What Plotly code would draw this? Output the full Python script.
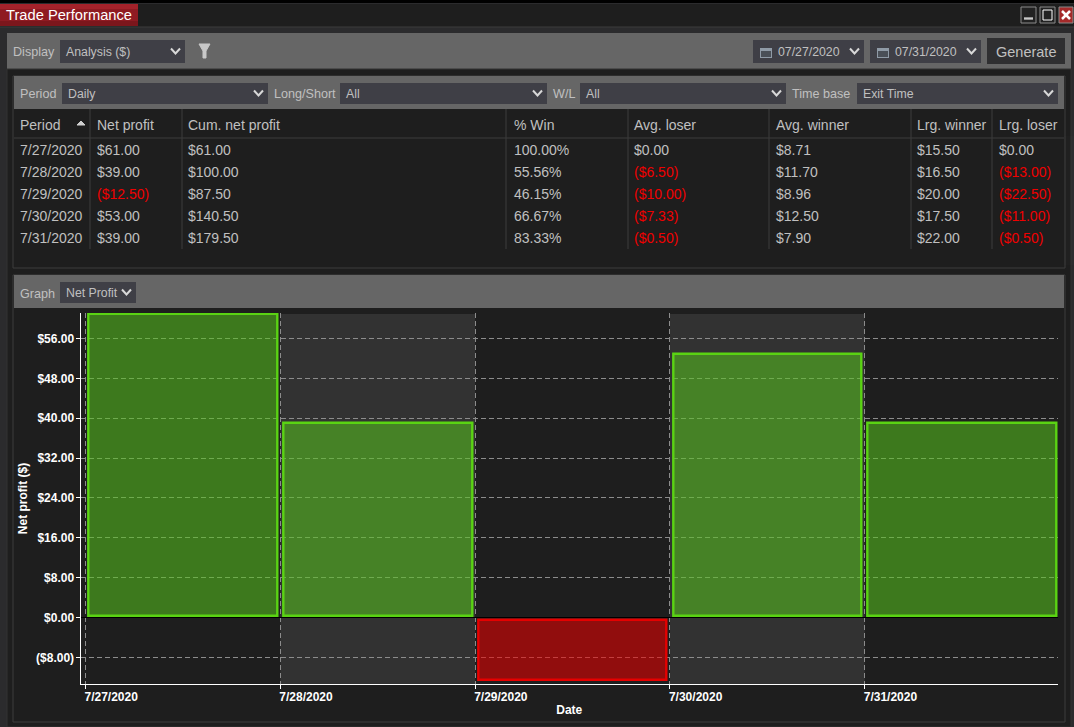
import plotly.graph_objects as go
import pandas as pd

W = 1074
H = 727

periods = ["7/27/2020", "7/28/2020", "7/29/2020", "7/30/2020", "7/31/2020"]
net_profit = [61.00, 39.00, -12.50, 53.00, 39.00]
cum_net_profit = [61.00, 100.00, 87.50, 140.50, 179.50]
pct_win = [100.00, 55.56, 46.15, 66.67, 83.33]
avg_loser = [0.00, -6.50, -10.00, -7.33, -0.50]
avg_winner = [8.71, 11.70, 8.96, 12.50, 7.90]
lrg_winner = [15.50, 16.50, 20.00, 17.50, 22.00]
lrg_loser = [0.00, -13.00, -22.50, -11.00, -0.50]

headers = ["Period", "Net\u00a0profit", "Cum.\u00a0net\u00a0profit", "%\u00a0Win", "Avg.\u00a0loser",
           "Avg.\u00a0winner", "Lrg.\u00a0winner", "Lrg.\u00a0loser"]
y_ticks = [-8, 0, 8, 16, 24, 32, 40, 48, 56]

BG = "#1e1e1e"
PANEL = "#666666"
SELECT = "#3f3f46"
EDGE = "#3c3c3c"
TEXT = "#c0c0c0"
RED = "#f00000"


def money(v):
    return f"(${-v:.2f})" if v < 0 else f"${v:.2f}"


def money_col(vals):
    return [money(v) for v in vals]


def red_col(vals):
    return [RED if v < 0 else TEXT for v in vals]


def px(x):
    return x / W


def py(y):
    return 1 - y / H


shapes = []
notes = []


def box(x0, y0, x1, y1, fill, line=None):
    shapes.append(dict(type="rect", xref="paper", yref="paper", layer="below",
                       x0=px(x0), x1=px(x1), y0=py(y1), y1=py(y0), fillcolor=fill,
                       line=dict(color=line or fill, width=1 if line else 0)))


def rule(x0, y0, x1, y1, color=EDGE, layer="above"):
    shapes.append(dict(type="line", xref="paper", yref="paper", layer=layer,
                       x0=px(x0), x1=px(x1), y0=py(y0), y1=py(y1),
                       line=dict(color=color, width=1)))


def poly(points, color, width=2, fill=None):
    d = "M" + " L".join(f"{px(a):.5f},{py(b):.5f}" for a, b in points)
    if fill:
        d += " Z"
    shapes.append(dict(type="path", xref="paper", yref="paper", path=d, layer="above",
                       fillcolor=fill, line=dict(color=color, width=width)))


def label(x, y, text, size=12.6, color=TEXT, anchor="left"):
    notes.append(dict(xref="paper", yref="paper", x=px(x), y=py(y), text=text,
                      showarrow=False, xanchor=anchor, yanchor="middle",
                      borderpad=0, font=dict(size=size, color=color)))


def select(x0, x1, y0, y1, text, tx=None):
    box(x0, y0, x1, y1, SELECT)
    label(tx or x0 + 5, (y0 + y1) / 2, text, 12.3)
    c = (y0 + y1) / 2
    poly([(x1 - 14, c - 3), (x1 - 9.5, c + 2), (x1 - 5, c - 3)], "#d8d8d8", 2)


# window chrome
box(0, 0, W, H, "#2b2b2d")
box(0, 0, W, 3, "#000000")
box(0, 4, W, 27, BG)
rule(0, 27, W, 27)
box(0, 4, 138, 26, "#8f1b22")
box(0, 4, 138, 9, "#a3222a")
box(0, 21, 138, 26, "#7c161c")
label(5, 15, "Trade Performance", 14.7, "#ffffff")
box(1021, 7, 1036, 23, "#222222", "#8a8a8a")
rule(1024, 18, 1033, 18, "#ffffff")
rule(1024, 19, 1033, 19, "#ffffff")
box(1040, 7, 1055, 23, "#222222", "#8a8a8a")
box(1043, 10, 1052, 20, "#222222", "#ffffff")
box(1059, 7, 1073, 23, "#a52a2a", "#8a8a8a")
poly([(1062, 11), (1070, 19)], "#ffffff", 2.5)
poly([(1070, 11), (1062, 19)], "#ffffff", 2.5)

# top toolbar
box(7, 33, 1071, 69, PANEL)
label(12, 52, "Display")
select(60, 185, 40, 63, "Analysis ($)")
poly([(199, 44), (210, 44), (206, 51), (206, 58), (203, 58), (203, 51)],
     "#c8c8c8", 1, "#c8c8c8")
for x0, x1, text in [(753, 864, "07/27/2020"), (870, 981, "07/31/2020")]:
    select(x0, x1, 40, 63, text, x0 + 24)
    box(x0 + 7, 48, x0 + 19, 58, "#8f9aa6")
    box(x0 + 8, 51, x0 + 18, 57, "#4a4f57")
box(987, 38, 1065, 64, "#2f2f31")
label(1026, 52, "Generate", 14.5, TEXT, "center")

# analysis panel
box(7, 69, 1071, 727, BG, "#333333")
box(13, 76, 1065, 268, BG, EDGE)
box(14, 76, 1064, 109, PANEL)
label(19, 94, "Period")
select(62, 268, 83, 104, "Daily")
label(273, 94, "Long/Short")
select(340, 547, 83, 104, "All")
label(552, 94, "W/L")
select(580, 786, 83, 104, "All")
label(791, 94, "Time base")
select(857, 1058, 83, 104, "Exit Time")

# graph panel
box(13, 275, 1065, 722, BG, EDGE)
box(14, 275, 1064, 308, PANEL)
label(19, 294, "Graph")
select(60, 136, 282, 303, "Net Profit")

# table grid
rule(14, 138, 1064, 138)
for x in [90, 182, 506, 628, 769, 911, 992]:
    rule(x, 109, x, 249)
poly([(77, 125), (81, 121), (85, 125)], "#d0d0d0", 1, "#d0d0d0")

text_starts = [20, 97, 188, 514, 634, 776, 917, 999]
col_edges = [x - 8 for x in text_starts] + [1064]
col_widths = [b - a for a, b in zip(col_edges, col_edges[1:])]

table = go.Table(
    domain=dict(x=[px(col_edges[0]), px(col_edges[-1])], y=[py(266), py(111)]),
    columnwidth=col_widths,
    header=dict(values=headers, height=25, align="left",
                fill_color="rgba(0,0,0,0)", line_color="rgba(0,0,0,0)",
                font=dict(size=14, color=TEXT)),
    cells=dict(
        values=[periods, money_col(net_profit), money_col(cum_net_profit),
                [f"{v:.2f}%" for v in pct_win], money_col(avg_loser),
                money_col(avg_winner), money_col(lrg_winner), money_col(lrg_loser)],
        height=22, align="left",
        fill_color="rgba(0,0,0,0)", line_color="rgba(0,0,0,0)",
        font=dict(size=14, color=[[TEXT] * 5, red_col(net_profit), [TEXT] * 5, [TEXT] * 5,
                                  red_col(avg_loser), [TEXT] * 5, [TEXT] * 5,
                                  red_col(lrg_loser)]),
    ),
)

# chart: translucent bars so the grid shows through
days = pd.to_datetime(periods)
one_day = pd.Timedelta(days=1)
gain = "rgba(88,197,30,0.55)"
loss = "rgba(240,0,0,0.55)"
# the bars stop just short of the black zero line
inset = [0.4 if v >= 0 else -0.4 for v in net_profit]

bars = go.Bar(
    x=days,
    y=[v - b for v, b in zip(net_profit, inset)],
    base=inset,
    xperiod=86400000,
    xperiodalignment="middle",
    width=0.968 * 86400000,
    marker=dict(color=[gain if v >= 0 else loss for v in net_profit],
                line=dict(color=["#5ad313" if v >= 0 else "#e60000" for v in net_profit],
                          width=2.4)),
    showlegend=False,
    hoverinfo="skip",
)

for i in [1, 3]:
    shapes.append(dict(type="rect", xref="x", yref="y domain", layer="below",
                       x0=days[i], x1=days[i] + one_day, y0=0, y1=0.997,
                       fillcolor="rgba(255,255,255,0.09)", line=dict(width=0)))

fig = go.Figure(data=[table, bars])

fig.update_layout(
    width=W,
    height=H,
    margin=dict(l=0, r=0, t=0, b=0),
    paper_bgcolor=BG,
    plot_bgcolor="rgba(0,0,0,0)",
    font=dict(family="Liberation Sans, Arial, sans-serif", color=TEXT),
    shapes=shapes,
    annotations=notes,
    bargap=0,
)
fig.update_xaxes(
    domain=[px(80.5), px(1058)],
    type="date",
    range=[days[0] - pd.Timedelta(days=0.0257), days[0] + pd.Timedelta(days=4.992)],
    tickvals=days,
    ticktext=periods,
    ticklabelposition="outside right",
    ticklabelshift=-2,
    ticklabelstandoff=2,
    ticks="outside",
    ticklen=4,
    tickcolor="#ffffff",
    tickfont=dict(size=12, color="#ffffff", family="Liberation Sans, Arial, sans-serif", weight="bold"),
    title=dict(text="<b>Date</b>", font=dict(size=12, color="#ffffff"), standoff=2),
    showline=True,
    linecolor="#ffffff",
    linewidth=1,
    showgrid=True,
    gridcolor="#8c8c8c",
    griddash="5px,3px",
    gridwidth=1,
    automargin=False,
)
fig.update_yaxes(
    domain=[py(684), py(313)],
    range=[-13.35, 61.14],
    tickvals=y_ticks,
    ticktext=[money(v) for v in y_ticks],
    ticks="outside",
    ticklen=4,
    tickcolor="#ffffff",
    ticklabelstandoff=-1,
    tickfont=dict(size=12, color="#ffffff", family="Liberation Sans, Arial, sans-serif", weight="bold"),
    title=dict(text="<b>Net profit ($)</b>", font=dict(size=12, color="#ffffff"), standoff=5),
    showline=True,
    linecolor="#ffffff",
    linewidth=1,
    showgrid=True,
    gridcolor="#8c8c8c",
    griddash="5px,3px",
    gridwidth=1,
    zeroline=True,
    zerolinecolor="#000000",
    zerolinewidth=1,
    automargin=False,
)

fig.write_html("out.html", config=dict(displayModeBar=False),
               post_script="document.body.style.margin='0';document.body.style.overflow='hidden';")
